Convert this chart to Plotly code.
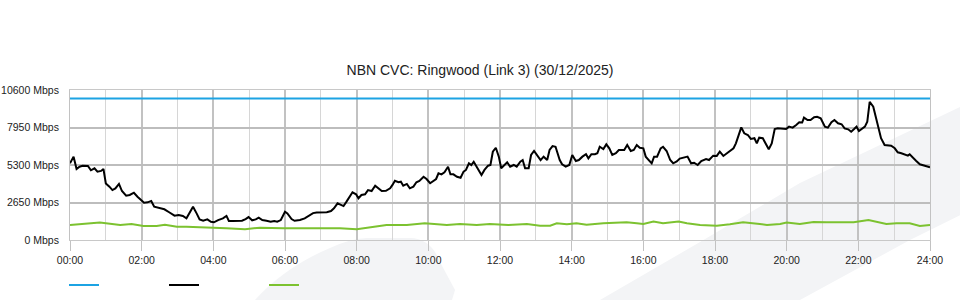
import plotly.graph_objects as go

# ---- data ----
title_text = "NBN CVC: Ringwood (Link 3) (30/12/2025)"

y_ticks = [0, 2650, 5300, 7950, 10600]
y_tick_labels = [f"{v} Mbps" for v in y_ticks]
x_ticks = list(range(0, 1441, 120))  # minutes
x_tick_labels = ["00:00", "02:00", "04:00", "06:00", "08:00", "10:00", "12:00",
                 "14:00", "16:00", "18:00", "20:00", "22:00", "24:00"]

capacity_min = [0, 1440]
capacity_mbps = [10000, 10000]

download_min = [
    0, 6, 11, 16, 21, 30, 35, 41, 46, 52,
    56, 60, 66, 71, 76, 82, 87, 94, 100, 107,
    113, 119, 124, 130, 136, 141, 150, 158, 166, 175,
    182, 189, 195, 203, 206, 212, 217, 223, 230, 236,
    241, 248, 256, 262, 266, 273, 281, 288, 294, 299,
    305, 311, 316, 322, 329, 336, 342, 347, 353, 360,
    364, 371, 376, 385, 393, 400, 407, 413, 421, 430,
    437, 442, 448, 453, 458, 463, 468, 473, 479, 483,
    488, 494, 499, 505, 511, 516, 522, 529, 536, 540,
    544, 550, 554, 558, 564, 569, 575, 580, 585, 592,
    597, 603, 610, 613, 617, 622, 627, 633, 637, 642,
    648, 654, 659, 663, 668, 672, 676, 682, 689, 694,
    700, 704, 708, 713, 718, 722, 728, 732, 737, 743,
    748, 754, 758, 762, 768, 772, 777, 782, 788, 793,
    799, 803, 808, 813, 817, 820, 824, 830, 836, 841,
    847, 852, 858, 864, 868, 873, 879, 883, 887, 893,
    898, 903, 908, 914, 919, 928, 933, 939, 944, 949,
    954, 960, 964, 970, 974, 978, 983, 989, 993, 999,
    1005, 1010, 1016, 1021, 1026, 1034, 1040, 1045, 1051, 1057,
    1065, 1070, 1077, 1083, 1088, 1094, 1100, 1105, 1111, 1115,
    1120, 1124, 1129, 1135, 1140, 1146, 1150, 1154, 1160, 1165,
    1170, 1175, 1180, 1185, 1193, 1199, 1204, 1210, 1216, 1221,
    1226, 1229, 1235, 1240, 1246, 1251, 1257, 1264, 1269, 1275,
    1280, 1286, 1292, 1297, 1303, 1308, 1313, 1317, 1321, 1326,
    1331, 1335, 1339, 1345, 1350, 1354, 1358, 1364, 1370, 1375,
    1381, 1386, 1392, 1398, 1403, 1406, 1412, 1417, 1423, 1428,
    1434, 1440,
]
download_mbps = [
    5420, 5890, 5020, 5180, 5250, 5230, 4925, 5065, 4830, 4880,
    5020, 4000, 3770, 3530, 3650, 3960, 3460, 3130, 3180, 3340,
    3060, 2830, 2640, 2660, 2760, 2350, 2280, 2170, 1960, 1720,
    1770, 1700, 1530, 2120, 2350, 1880, 1460, 1360, 1460, 1290,
    1250, 1410, 1530, 1700, 1340, 1340, 1340, 1360, 1480, 1620,
    1390, 1460, 1580, 1410, 1360, 1290, 1340, 1290, 1410, 2000,
    1880, 1480, 1360, 1410, 1530, 1700, 1900, 1950, 1930, 1960,
    2050, 2240, 2590, 2520, 2400, 2710, 3020, 3370, 3230, 2950,
    3180, 3230, 3530, 3460, 3840, 3650, 3460, 3480, 3650, 3890,
    4190, 4080, 4120, 3840, 3960, 3650, 3770, 4080, 4170, 4470,
    4310, 4010, 4200, 4310, 4710, 4640, 4780, 5180, 4640, 4640,
    4470, 4400, 4830, 4950, 5420, 5300, 5530, 5070, 4590, 4950,
    5250, 5300, 6240, 6520, 5890, 5070, 5300, 5490, 5180, 5300,
    5180, 5530, 5650, 5070, 5070, 6010, 6290, 6010, 5650, 5890,
    5650, 6360, 6640, 6590, 6000, 5650, 5350, 5180, 5300, 6010,
    5580, 5650, 5890, 6060, 5770, 6060, 6060, 6130, 6590, 6430,
    6760, 6480, 6010, 6130, 6360, 6360, 6710, 6290, 6360, 6710,
    6520, 6480, 5890, 5580, 5420, 5890, 5890, 6480, 6590, 6290,
    5650, 5420, 5550, 5750, 5820, 5890, 5420, 5460, 5300, 5580,
    5720, 5650, 5960, 5940, 6240, 5940, 6130, 6310, 6480, 6830,
    7420, 7960, 7540, 7420, 7140, 7190, 6830, 7230, 7190, 6760,
    6410, 6830, 7840, 7890, 7890, 7840, 8010, 7940, 8130, 8320,
    8300, 8650, 8480, 8480, 8670, 8710, 8600, 8010, 7940, 8320,
    8480, 8250, 8180, 7890, 7820, 7650, 7840, 8010, 7700, 7840,
    8010, 8360, 9770, 9420, 8600, 8010, 7190, 6710, 6710, 6660,
    6480, 6200, 6130, 6060, 5960, 6060, 5770, 5580, 5350, 5300,
    5250, 5140,
]

upload_min = [
    0, 22, 50, 84, 103, 123, 145, 159, 179, 195,
    229, 262, 293, 318, 357, 385, 430, 452, 480, 497,
    530, 564, 594, 631, 653, 681, 703, 734, 765, 787,
    804, 815, 832, 848, 865, 893, 921, 932, 949, 960,
    977, 993, 1019, 1033, 1055, 1083, 1105, 1127, 1155, 1167,
    1189, 1200, 1222, 1245, 1267, 1284, 1312, 1337, 1351, 1367,
    1384, 1406, 1423, 1440,
]
upload_mbps = [
    1060, 1130, 1230, 1060, 1130, 990, 990, 1080, 940, 940,
    895, 825, 755, 870, 825, 825, 780, 825, 755, 870,
    1060, 1060, 1180, 1060, 1130, 1060, 1130, 1060, 1130, 1010,
    1010, 1180, 1110, 1180, 1080, 1180, 1230, 1250, 1180, 1130,
    1300, 1180, 1300, 1180, 1060, 1010, 1110, 1250, 1130, 1060,
    1130, 1230, 1130, 1270, 1250, 1230, 1250, 1410, 1300, 1130,
    1180, 1180, 990, 1060,
]

# ---- styles ----
BLUE = "#1ca3e3"
BLACK = "#000000"
GREEN = "#7cc230"
WATERMARK = "#f3f4f6"

fig = go.Figure()
fig.add_trace(go.Scatter(x=capacity_min, y=capacity_mbps, mode="lines", name=" ",
                         line=dict(color=BLUE, width=2)))
fig.add_trace(go.Scatter(x=download_min, y=download_mbps, mode="lines", name=" ",
                         line=dict(color=BLACK, width=2)))
fig.add_trace(go.Scatter(x=upload_min, y=upload_mbps, mode="lines", name=" ",
                         line=dict(color=GREEN, width=2)))

# faint background watermark (decoration)
fig.add_shape(type="path", xref="paper", yref="paper", layer="below",
              path="M0.2151,-0.4 Q0.25,-0.18 0.3023,-0.0533 Q0.33,0.02 0.3488,0.0133 "
                   "L0.3953,0.0133 Q0.42,0.01 0.4302,-0.1467 L0.4477,-0.3333 L0.4442,-0.4 Z",
              fillcolor=WATERMARK, line=dict(width=0))
fig.add_shape(type="path", xref="paper", yref="paper", layer="below",
              path="M0.6163,-0.4 L0.7326,-0.0133 L0.8488,0.38 L1.04,0.9 L1.04,0.18 "
                   "L0.9767,0 L0.8488,-0.4 Z",
              fillcolor=WATERMARK, line=dict(width=0))

fig.update_layout(
    width=960, height=300,
    margin=dict(l=70, r=30, t=90, b=60, autoexpand=False),
    paper_bgcolor="white",
    plot_bgcolor="rgba(0,0,0,0)",
    font=dict(family="Liberation Sans, Arial, sans-serif", size=10.5, color="#222"),
    title=dict(text=title_text, x=0.5, xanchor="center", y=1 - 70 / 300, yanchor="middle",
               font=dict(size=14, color="#222")),
    showlegend=True,
    legend=dict(orientation="h", xref="container", yref="container",
                x=64 / 960, y=15 / 300, xanchor="left", yanchor="middle",
                entrywidth=55, entrywidthmode="pixels", bgcolor="rgba(0,0,0,0)",
                font=dict(size=10)),
    hovermode=False,
)
fig.update_xaxes(
    range=[0, 1440], tickmode="array", tickvals=x_ticks, ticktext=x_tick_labels,
    automargin=False,
    showgrid=True, gridcolor="#c2c2c2", gridwidth=1.5,
    ticks="outside", ticklen=10, tickcolor="#c2c2c2", tickwidth=1,
    showline=True, linecolor="#c8c8c8", linewidth=1, mirror=True,
    zeroline=False,
    minor=dict(tickmode="linear", tick0=0, dtick=60, showgrid=True,
               gridcolor="#d6d6d6", gridwidth=1, ticks=""),
)
fig.update_yaxes(
    range=[0, 10600], tickmode="array", tickvals=y_ticks, ticktext=y_tick_labels,
    automargin=False,
    showgrid=True, gridcolor="#bdbdbd", gridwidth=2,
    ticks="", ticklabelstandoff=8,
    showline=True, linecolor="#c2c2c2", linewidth=1, mirror=True,
    zeroline=False,
)

fig.write_html("out.html")
